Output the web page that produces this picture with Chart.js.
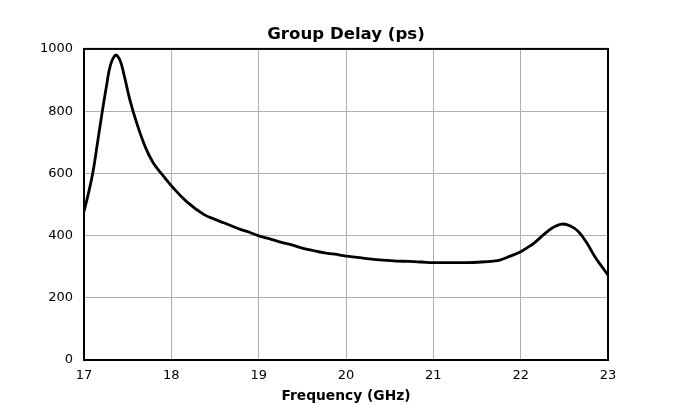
<!DOCTYPE html>
<html>
<head>
<meta charset="utf-8">
<script src="https://cdn.jsdelivr.net/npm/chart.js@4"></script>
<style>
  html, body { margin: 0; padding: 0; background: #fff; }
  canvas { display: block; }
</style>
</head>
<body>
<canvas id="chart" width="675" height="405"></canvas>
<script>
// frequency (GHz) and group delay (ps)
const freqGHz = [
  17.00, 17.05, 17.10, 17.15, 17.21, 17.26, 17.30, 17.36, 17.41,
  17.46, 17.52, 17.60, 17.70, 17.79, 17.89, 18.01, 18.175, 18.37,
  18.50, 18.60, 18.70, 18.79, 18.90, 19.00, 19.12, 19.24, 19.38,
  19.51, 19.62, 19.74, 19.87, 20.00, 20.13, 20.27, 20.42, 20.58, 20.73,
  20.87, 21.00, 21.20, 21.38, 21.55, 21.69, 21.76, 21.88, 22.00, 22.08,
  22.15, 22.26, 22.37, 22.47, 22.57, 22.66, 22.76, 22.85, 22.93, 23.00
];
const delayPs = [
  478, 535, 600, 690, 800, 885, 945, 980, 965,
  915, 842, 765, 686, 635, 598, 557, 509, 468,
  452, 441, 430, 420, 410, 399, 390, 380, 370,
  359, 352, 345, 340, 334, 330, 325, 321, 318, 317,
  315, 313, 313, 313, 315, 318, 321, 334, 348, 362,
  375, 402, 426, 437, 431, 413, 375, 332, 300, 273
];
const xTicks = [17, 18, 19, 20, 21, 22, 23];
const yTicks = [0, 200, 400, 600, 800, 1000];

const FONT = 'DejaVu Sans';

// box around the plot area
const frame = {
  id: 'frame',
  afterDraw(chart) {
    const { ctx, chartArea: a } = chart;
    ctx.save();
    ctx.strokeStyle = '#000';
    ctx.lineWidth = 2;
    ctx.strokeRect(a.left, a.top, a.right - a.left, a.bottom - a.top);
    ctx.restore();
  }
};

new Chart(document.getElementById('chart'), {
  type: 'line',
  data: {
    datasets: [{
      data: freqGHz.map((f, i) => ({ x: f, y: delayPs[i] })),
      borderColor: '#000',
      borderWidth: 2.8,
      pointRadius: 0,
      tension: 0.4,
      fill: false
    }]
  },
  options: {
    responsive: false,
    animation: false,
    devicePixelRatio: 1,
    layout: { padding: { left: 0, right: 67, top: 0, bottom: 0 } },
    plugins: {
      legend: { display: false },
      tooltip: { enabled: false },
      title: {
        display: true,
        text: 'Group Delay (ps)',
        color: '#000',
        fullSize: false,
        font: { family: FONT, size: 16.6, weight: 'bold' },
        padding: { top: 25, bottom: 4 }
      }
    },
    scales: {
      x: {
        type: 'linear',
        min: 17,
        max: 23,
        afterBuildTicks(s) { s.ticks = xTicks.map(v => ({ value: v })); },
        afterFit(s) { s.height = 45; },
        grid: { color: '#b0b0b0', lineWidth: 1, drawTicks: false },
        border: { color: '#000', width: 2 },
        ticks: {
          color: '#000',
          padding: 8,
          maxRotation: 0,
          font: { family: FONT, size: 13 },
          callback: v => String(v)
        },
        title: {
          display: true,
          text: 'Frequency (GHz)',
          color: '#000',
          font: { family: FONT, size: 13.8, weight: 'bold' },
          padding: { top: 0, bottom: 0 }
        }
      },
      y: {
        min: 0,
        max: 1000,
        afterBuildTicks(s) { s.ticks = yTicks.map(v => ({ value: v })); },
        afterFit(s) { s.width = 84; },
        grid: { color: '#b0b0b0', lineWidth: 1, drawTicks: false },
        border: { color: '#000', width: 2 },
        ticks: {
          color: '#000',
          padding: 11,
          font: { family: FONT, size: 13 },
          callback: v => String(v)
        }
      }
    }
  },
  plugins: [frame]
});
</script>
</body>
</html>
